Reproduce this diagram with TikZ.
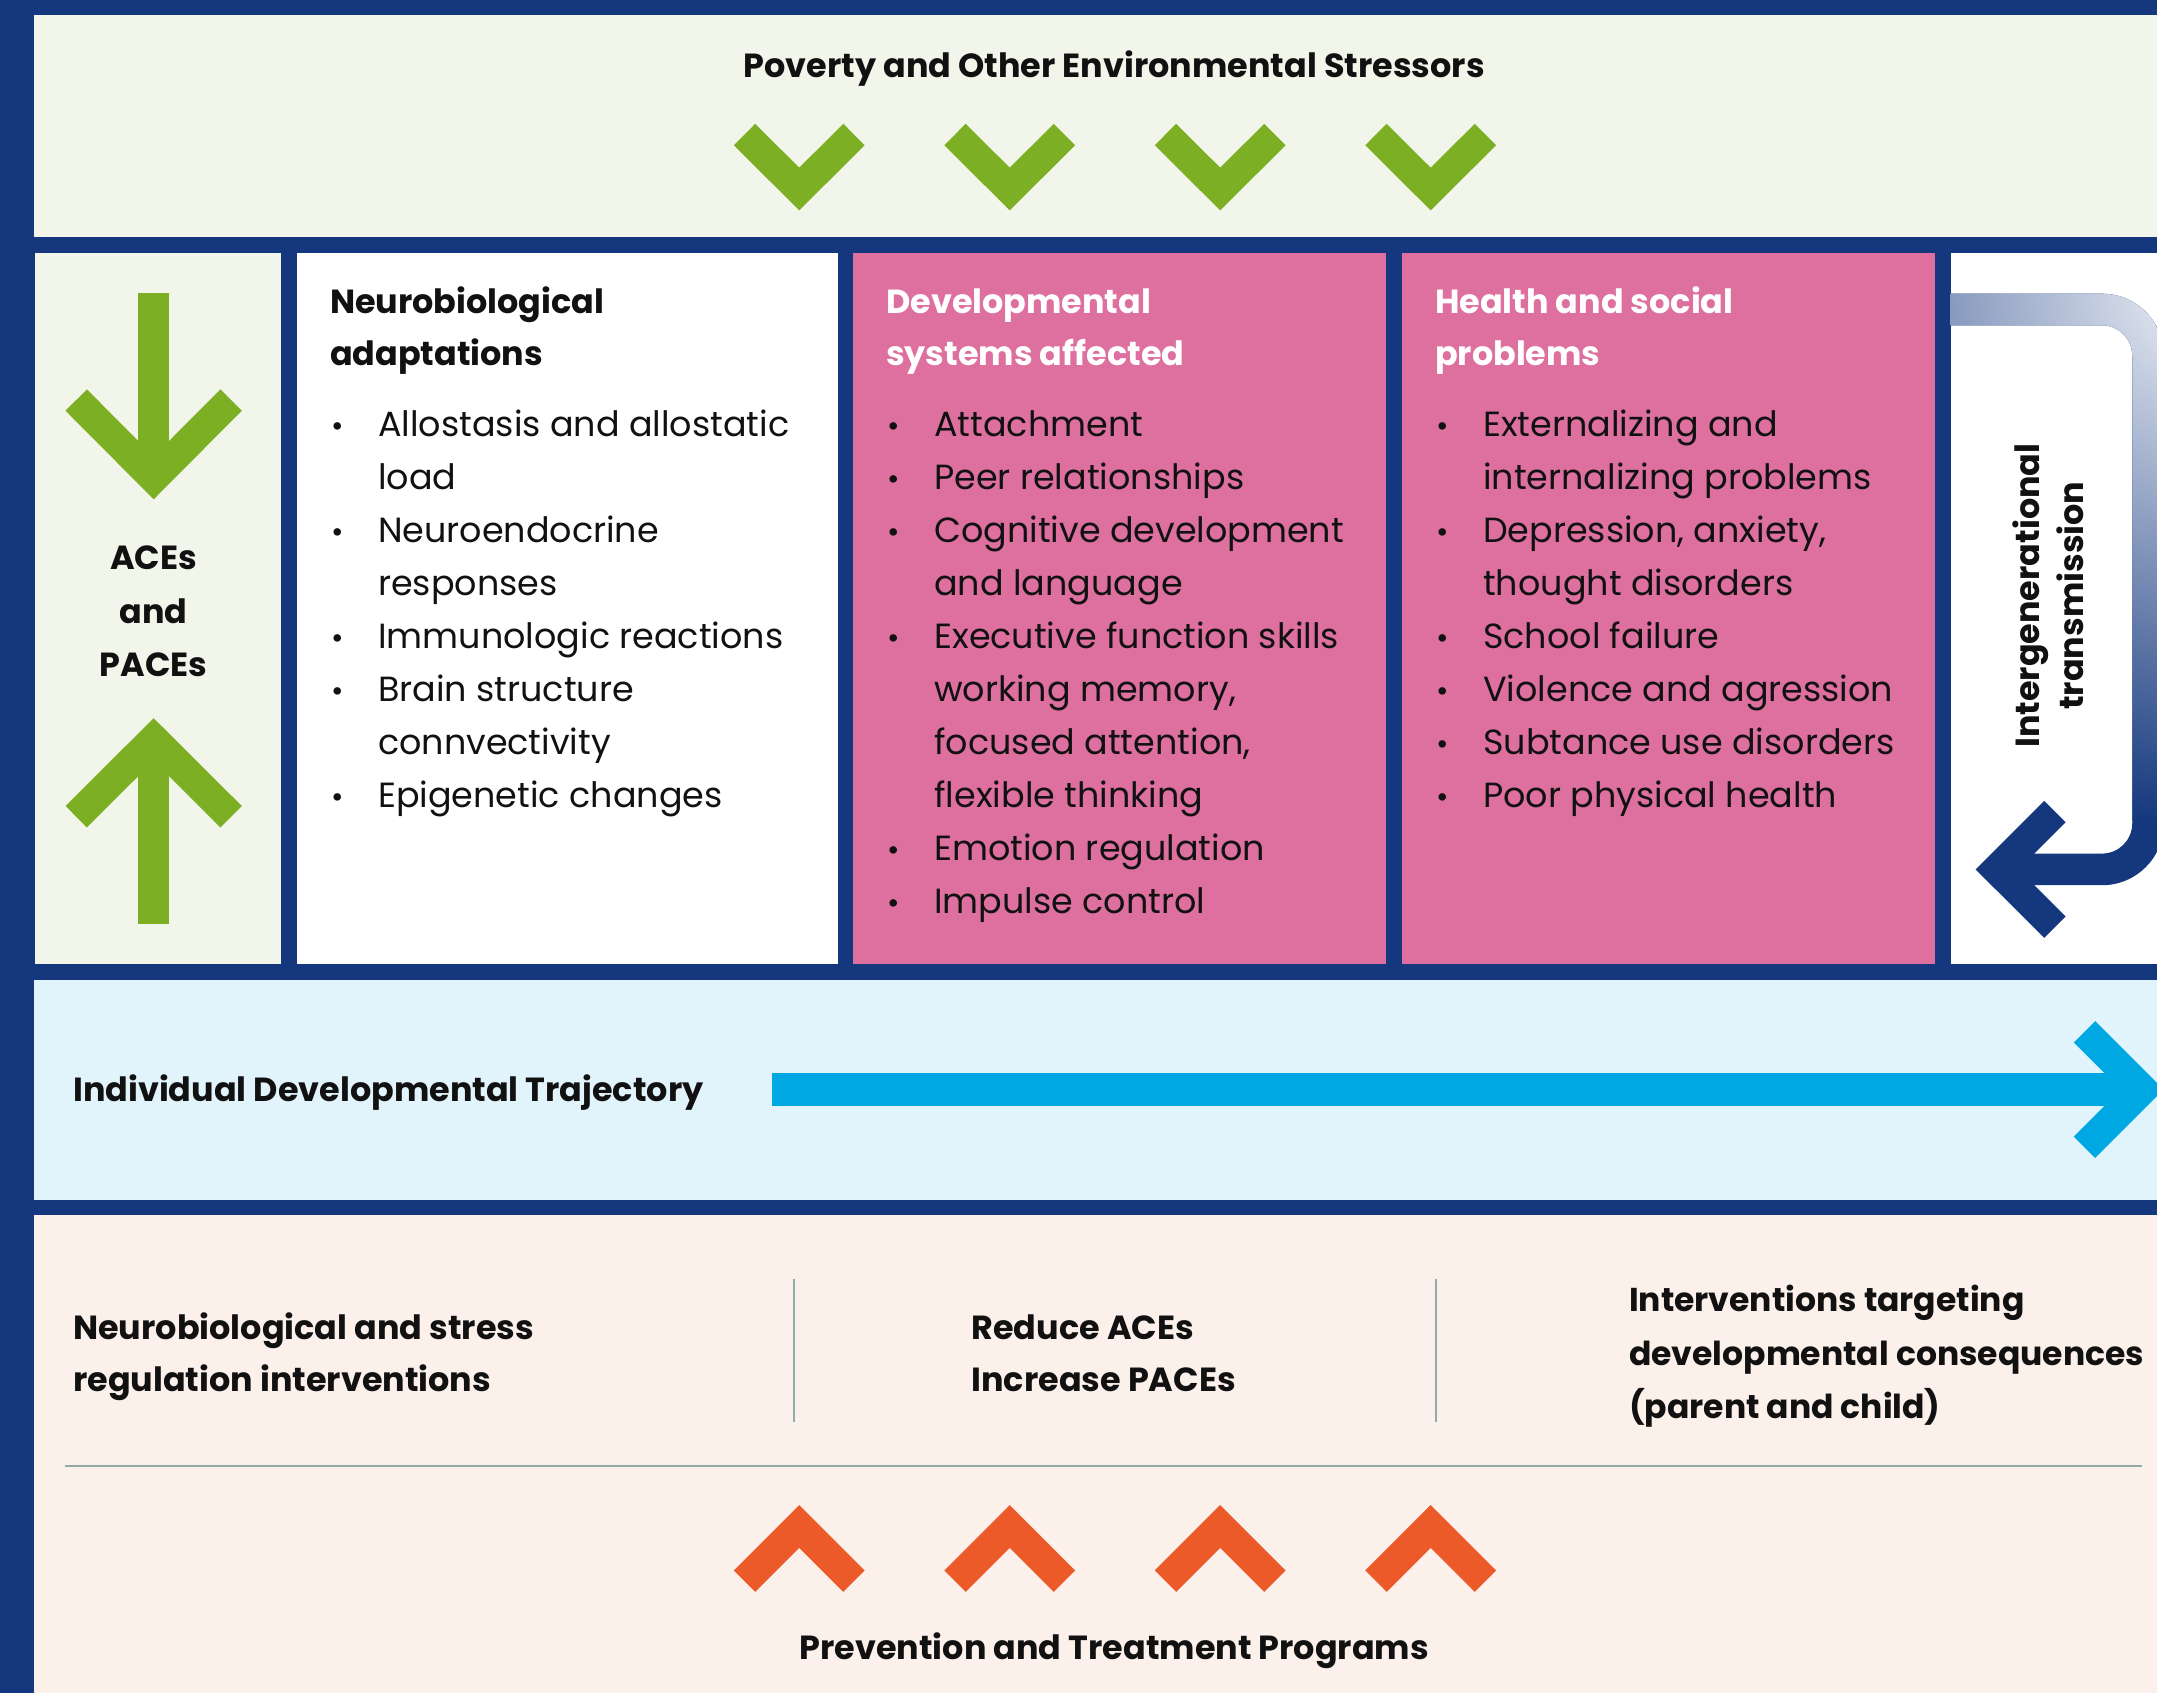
\documentclass[tikz,border=0pt]{standalone}
\usepackage{fontspec}
\setmainfont{Poppins}
\definecolor{navy}{HTML}{14377D}
\definecolor{paleg}{HTML}{F2F6EA}
\definecolor{leaf}{HTML}{7DAF24}
\definecolor{rose}{HTML}{DE70A0}
\definecolor{palebl}{HTML}{E2F4FB}
\definecolor{sky}{HTML}{00A8E3}
\definecolor{palepk}{HTML}{FCF0EB}
\definecolor{flame}{HTML}{EB5A28}
\definecolor{sepline}{HTML}{93ABA6}
\definecolor{arrlight}{HTML}{EEF1F7}
\definecolor{ink}{HTML}{111111}
\newcommand\bul{\makebox[35pt][l]{\hspace{1pt}\raisebox{0pt}{\fontsize{22}{22}\selectfont\textbullet}}}
\newcommand\ind{\hspace*{35pt}}
\newcommand\bandpath{(1418,213.5) -- (1528,213.5) .. controls (1552.85,213.5) and (1573,233.65) .. (1573,258.5)
  -- (1573,598.5) .. controls (1573,623.35) and (1552.85,643.5) .. (1528,643.5)
  -- (1463,643.5) -- (1463,620.5) -- (1528,620.5)
  .. controls (1540.15,620.5) and (1550,610.65) .. (1550,598.5)
  -- (1550,258.5) .. controls (1550,246.35) and (1540.15,236.5) .. (1528,236.5)
  -- (1418,236.5) -- cycle}
\tikzset{
  chev/.style={line width=22pt, line join=miter, line cap=butt},
  hd/.style={anchor=base west, inner sep=0pt, align=left, text=ink, font=\bfseries\fontsize{24.3}{37.8}\selectfont},
  lst/.style={anchor=base west, inner sep=0pt, align=left, text=ink, font=\fontsize{25.4}{38.6}\selectfont},
  ttl/.style={anchor=base, inner sep=0pt, text=ink, font=\bfseries\fontsize{24.3}{38.6}\selectfont},
}
\begin{document}
\begin{tikzpicture}[x=1pt, y=-1pt]
\clip (0,0) rectangle (1568,1230.7);
\fill[navy] (0,0) rectangle (1568,1230.7);
% panels
\fill[paleg] (24.5,11) rectangle (1568,172.3);
\fill[paleg] (25.3,183.7) rectangle (204,701);
\fill[white] (215.8,183.7) rectangle (609.4,701);
\fill[rose] (619.8,183.7) rectangle (1007.3,701);
\fill[rose] (1018.8,183.7) rectangle (1406.5,701);
\fill[white] (1418,183.7) rectangle (1568,701);
\fill[palebl] (24.5,712.3) rectangle (1568,872.3);
\fill[palepk] (24.5,883.2) rectangle (1568,1230.7);

% top title and chevrons
\node[ttl] (poverty) at (810,56) {Poverty and Other Environmental Stressors};
\foreach \c in {581,734,887,1040}
  \draw[chev, leaf] (\c-39.8,97.8) -- (\c,137.4) -- (\c+39.8,97.8);

% left column arrows
\draw[leaf, line width=22.5pt] (111.7,213) -- (111.7,340);
\draw[chev, leaf] (55.4,290.8) -- (111.7,347.4) -- (168,290.8);
\draw[leaf, line width=22.5pt] (111.7,672) -- (111.7,545);
\draw[chev, leaf] (55.4,593.7) -- (111.7,537.6) -- (168,593.7);
\node[anchor=base, inner sep=0pt, align=center, text=ink, font=\bfseries\fontsize{24.3}{39}\selectfont] (aces) at (111.7,492) {ACEs\\and\\PACEs};

% column 2
\node[hd] (h2) at (239.7,265.7) {Neurobiological\\adaptations};
\node[lst] (l2) at (239.7,587.2) {\bul Allostasis and allostatic\\\ind load\\\bul Neuroendocrine\\\ind responses\\\bul Immunologic reactions\\\bul Brain structure\\\ind connvectivity\\\bul Epigenetic changes};

% column 3
\node[hd, text=white] (h3) at (644,265.7) {Developmental\\systems affected};
\node[lst] (l3) at (644,664.4) {\bul Attachment\\\bul Peer relationships\\\bul Cognitive development\\\ind and language\\\bul Executive function skills\\\ind working memory,\\\ind focused attention,\\\ind flexible thinking\\\bul Emotion regulation\\\bul Impulse control};

% column 4
\node[hd, text=white] (h4) at (1043,265.7) {Health and social\\problems};
\node[lst] (l4) at (1043,587.2) {\bul Externalizing and\\\ind internalizing problems\\\bul Depression, anxiety,\\\ind thought disorders\\\bul School failure\\\bul Violence and agression\\\bul Subtance use disorders\\\bul Poor physical health};

% intergenerational arrow
\fill[navy] \bandpath;
\begin{scope}
\clip \bandpath;
\shade[inner color=arrlight, outer color=navy] (1600,210) circle (390);
\end{scope}
\draw[chev, navy] (1493.8,590) -- (1451.7,632) -- (1493.8,674);
\node[rotate=90, inner sep=0pt, align=center, text=ink, font=\bfseries\fontsize{24.3}{32}\selectfont] (inter) at (1489,433) {Intergenerational\\transmission};

% trajectory
\node[anchor=base west, inner sep=0pt, text=ink, font=\bfseries\fontsize{24.3}{38}\selectfont] (traj) at (53,801) {Individual Developmental Trajectory};
\draw[sky, line width=23.5pt] (561,792) -- (1545,792);
\draw[chev, sky] (1515.3,750) -- (1557.3,792) -- (1515.3,834);

% bottom panel
\draw[sepline, line width=1.2pt] (577,930) -- (577,1034);
\draw[sepline, line width=1.2pt] (1044,930) -- (1044,1034);
\draw[sepline, line width=1.5pt] (47,1066) -- (1557,1066);
\node[hd, font=\bfseries\fontsize{24.3}{37.6}\selectfont] (b1) at (53,1011.6) {Neurobiological and stress\\regulation interventions};
\node[hd, font=\bfseries\fontsize{24.3}{37.6}\selectfont] (b2) at (706,1011.6) {Reduce ACEs\\Increase PACEs};
\node[hd, font=\bfseries\fontsize{24}{38.8}\selectfont] (b3) at (1184,1031.1) {Interventions targeting\\developmental consequences\\(parent and child)};
\foreach \c in {581,734,887,1040}
  \draw[chev, flame] (\c-39.8,1149.4) -- (\c,1109.6) -- (\c+39.8,1149.4);
\node[ttl] (prog) at (810,1206) {Prevention and Treatment Programs};
\end{tikzpicture}
\end{document}
